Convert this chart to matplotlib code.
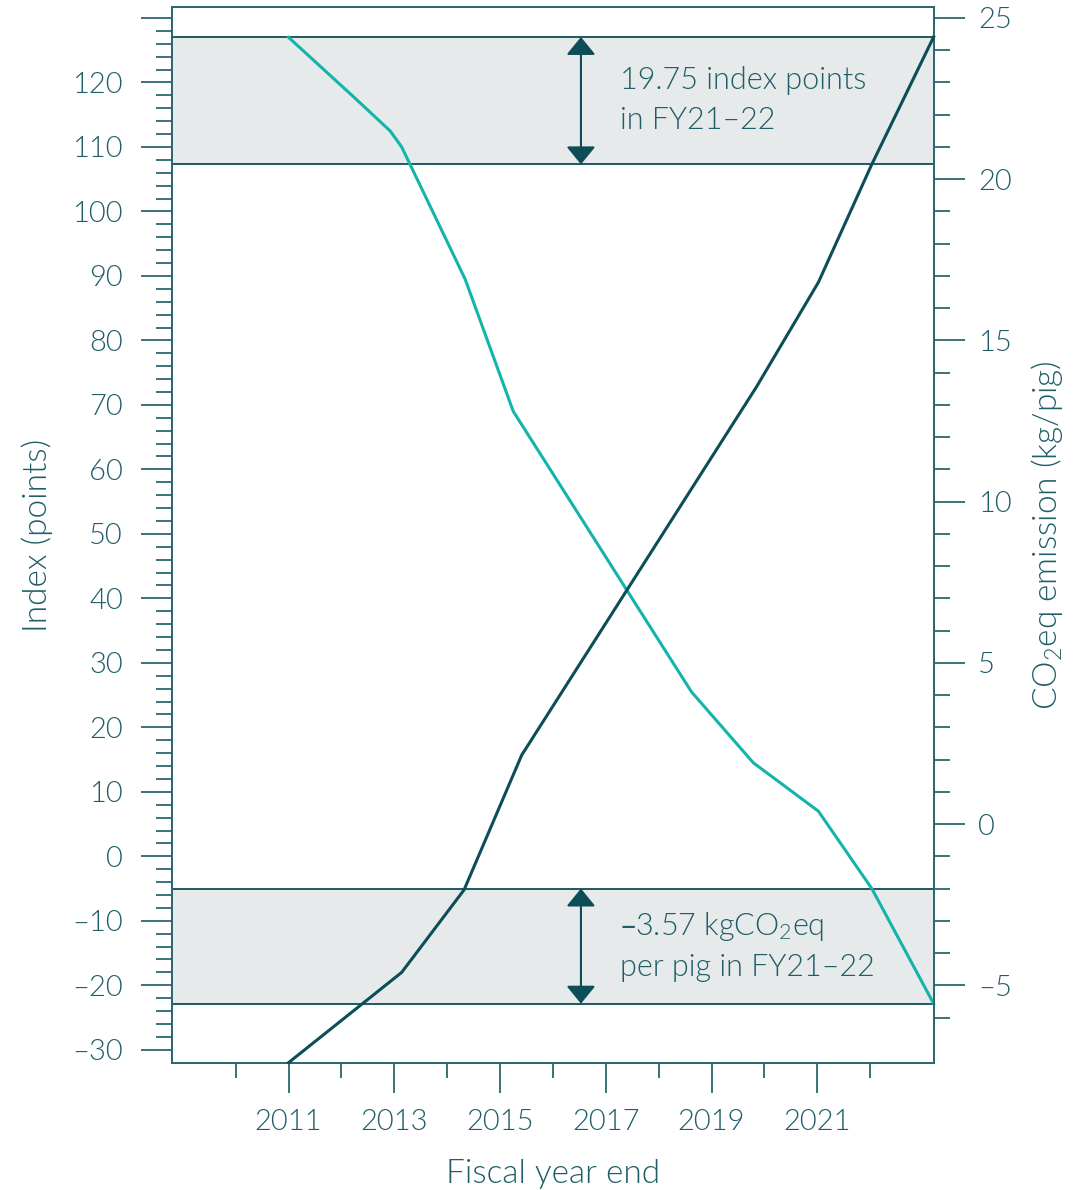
import matplotlib
matplotlib.use("Agg")
import matplotlib.pyplot as plt
from matplotlib.patches import Rectangle
from matplotlib.transforms import blended_transform_factory
from matplotlib.ticker import FixedLocator

# === Données ===
# indice (axe gauche)
index_x = [2011.0, 2013.14, 2014.32, 2015.41, 2019.85, 2021.02, 2022.03, 2023.2]
index_y = [-32.0, -18.0, -5.2, 15.7, 72.8, 89.0, 107.3, 127.05]

# émissions CO2eq (axe droit)
co2_x = [2011.0, 2012.2, 2012.92, 2013.14, 2014.34, 2015.25, 2018.62, 2019.79, 2021.02, 2022.03, 2023.2]
co2_y = [24.4, 22.6, 21.5, 21.0, 16.9, 12.8, 4.1, 1.9, 0.4, -2.0, -5.57]

year_ticks = [2011, 2013, 2015, 2017, 2019, 2021]
year_minor = [2010, 2012, 2014, 2016, 2018, 2020, 2022]
index_labels = [-30, -20, -10, 0, 10, 20, 30, 40, 50, 60, 70, 80, 90, 100, 110, 120]
co2_labels = [-5, 0, 5, 10, 15, 20, 25]

top_note = "19.75 index points\nin FY21\u201322"
bottom_note = "\u20133.57 kgCO$_2$eq\nper pig in FY21\u201322"

# === Styles ===
TEXT = "#1f5d68"
DARK = "#0c4d57"
TEAL = "#14b3ab"
BAND = "#e6eaea"
SPINE = "#2c6671"
FS = 21
LFS = 24

plt.rcParams["font.family"] = ["Lato", "DejaVu Sans"]
plt.rcParams["font.weight"] = 300
plt.rcParams["axes.labelweight"] = 300
plt.rcParams["mathtext.default"] = "regular"
plt.rcParams["axes.unicode_minus"] = False

fig = plt.figure(figsize=(10.83, 11.9), dpi=100)
ax = fig.add_axes([0.1585, 0.107, 0.7036, 0.8869])
ax2 = ax.twinx()

# ax (indice) au-dessus de ax2
ax.set_zorder(ax2.get_zorder() + 1)
ax.patch.set_visible(False)

ax.set_xlim(2008.79, 2023.2)
ax.set_ylim(-32, 131.66)
ax2.set_ylim(-32 / 5 - 1, 131.66 / 5 - 1)

# bandes grises
tr_idx = blended_transform_factory(ax2.transAxes, ax.transData)
ax2.add_patch(Rectangle((0, index_y[-2]), 1, index_y[-1] - index_y[-2],
                        transform=tr_idx, facecolor=BAND, edgecolor="none", zorder=0))
ax2.add_patch(Rectangle((0, co2_y[-1]), 1, co2_y[-2] - co2_y[-1],
                        transform=ax2.get_yaxis_transform(), facecolor=BAND, edgecolor="none", zorder=0))
for v in index_y[-2:]:
    ax2.plot([0, 1], [v, v], transform=tr_idx, color=DARK, lw=1.3, zorder=1)
for v in co2_y[-2:]:
    ax2.axhline(v, color=DARK, lw=1.3, zorder=1)

# flèches
arrow_x = 2016.53
arr = dict(arrowstyle="<|-|>,head_length=0.55,head_width=0.45", color=DARK, lw=1.5,
           shrinkA=0, shrinkB=0, mutation_scale=20)
ax2.annotate("", xy=(arrow_x, index_y[-1]), xytext=(arrow_x, index_y[-2]),
             xycoords=ax.transData, textcoords=ax.transData, arrowprops=arr)
ax2.annotate("", xy=(arrow_x, co2_y[-2]), xytext=(arrow_x, co2_y[-1]), arrowprops=arr)

ax2.text(2017.27, (index_y[-1] + index_y[-2]) / 2, top_note, transform=ax.transData,
         ha="left", va="center", fontsize=22, color=TEXT, linespacing=1.45, zorder=2)
ax2.text(2017.27, (co2_y[-1] + co2_y[-2]) / 2, bottom_note,
         ha="left", va="center", fontsize=22, color=TEXT, linespacing=1.45, zorder=2)

# lignes
ax2.plot(co2_x, co2_y, color=TEAL, lw=2.2, zorder=3, clip_on=False)
ax.plot(index_x, index_y, color=DARK, lw=2.2, zorder=3, clip_on=False)

# ticks
ax.xaxis.set_major_locator(FixedLocator(year_ticks))
ax.xaxis.set_minor_locator(FixedLocator(year_minor))
ax.yaxis.set_major_locator(FixedLocator(index_labels + [130]))
ax.set_yticklabels([str(v).replace("-", "\u2013") for v in index_labels] + [""])
ax.yaxis.set_minor_locator(FixedLocator([v for v in range(-30, 131, 2) if v % 10 != 0]))
ax2.yaxis.set_major_locator(FixedLocator(co2_labels))
ax2.set_yticklabels([str(v).replace("-", "\u2013") for v in co2_labels])
ax2.yaxis.set_minor_locator(FixedLocator([v for v in range(-6, 25) if v % 5 != 0]))

ax.tick_params(axis="y", which="major", length=22, width=1.3, pad=13, colors=SPINE,
               labelcolor=TEXT, labelsize=FS)
ax.tick_params(axis="y", which="minor", length=11.5, width=1.3, colors=SPINE)
ax.tick_params(axis="x", which="major", length=21.5, width=1.3, pad=12, colors=SPINE,
               labelcolor=TEXT, labelsize=FS)
ax.tick_params(axis="x", which="minor", length=10.5, width=1.3, colors=SPINE)
ax2.tick_params(axis="y", which="major", length=22, width=1.3, pad=10, colors=SPINE,
                labelcolor=TEXT, labelsize=FS)
ax2.tick_params(axis="y", which="minor", length=11.5, width=1.3, colors=SPINE)

for a in (ax, ax2):
    for s in a.spines.values():
        s.set_color(SPINE)
        s.set_linewidth(1.3)

ax.set_ylabel("Index (points)", fontsize=LFS, color=TEXT, labelpad=14)
ax.set_xlabel("Fiscal year end", fontsize=LFS, color=TEXT, labelpad=17)
ax2.set_ylabel("CO$_2$eq emission (kg/pig)", fontsize=LFS, color=TEXT, labelpad=12)

fig.savefig("out.png", dpi=100)
